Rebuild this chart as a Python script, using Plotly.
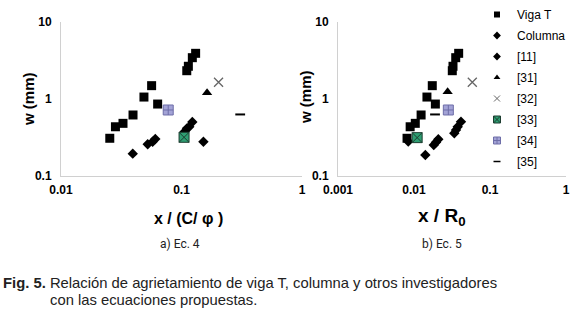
import plotly.graph_objects as go

W, H = 576, 314

# ---------------- data: a) Ec. 4  (x / (C/phi), w mm) ----------------
a_viga_x = [0.0254, 0.0283, 0.0327, 0.0396, 0.0488, 0.0565, 0.0634, 0.1106, 0.114, 0.123, 0.131]
a_viga_y = [0.309, 0.436, 0.483, 0.62, 1.06, 1.49, 0.86, 2.33, 2.66, 3.44, 3.92]
a_col_x = [0.0524, 0.0576, 0.0606, 0.106, 0.111, 0.116, 0.123]
a_col_y = [0.258, 0.279, 0.303, 0.376, 0.416, 0.436, 0.502]
a_11_x = [0.0394, 0.152]
a_11_y = [0.195, 0.279]
a_31_x = [0.163]; a_31_y = [1.21]
a_32_x = [0.203]; a_32_y = [1.65]
a_33_x = [0.105]; a_33_y = [0.318]
a_34_x = [0.0776]; a_34_y = [0.72]
a_35_x = [0.307]; a_35_y = [0.63]

# ---------------- data: b) Ec. 5  (x / R0, w mm) ----------------
b_viga_x = [0.0081, 0.0089, 0.0104, 0.0124, 0.0148, 0.0174, 0.0191, 0.0319, 0.0326, 0.0354, 0.0387]
b_viga_y = [0.309, 0.436, 0.483, 0.62, 1.06, 1.49, 0.86, 2.33, 2.66, 3.44, 3.92]
b_col_x = [0.0182, 0.0195, 0.0209, 0.0339, 0.0357, 0.0376, 0.0415]
b_col_y = [0.253, 0.274, 0.300, 0.359, 0.396, 0.436, 0.507]
b_11_x = [0.0141, 0.0084]
b_11_y = [0.187, 0.28]
b_31_x = [0.0277]; b_31_y = [1.24]
b_32_x = [0.0585]; b_32_y = [1.65]
b_33_x = [0.0110]; b_33_y = [0.315]
b_34_x = [0.0283]; b_34_y = [0.72]
b_35_x = [0.0189]; b_35_y = [0.63]

series_names = ["Viga T", "Columna", "[11]", "[31]", "[32]", "[33]", "[34]", "[35]"]
a_data = [(a_viga_x, a_viga_y), (a_col_x, a_col_y), (a_11_x, a_11_y), (a_31_x, a_31_y),
          (a_32_x, a_32_y), (a_33_x, a_33_y), (a_34_x, a_34_y), (a_35_x, a_35_y)]
b_data = [(b_viga_x, b_viga_y), (b_col_x, b_col_y), (b_11_x, b_11_y), (b_31_x, b_31_y),
          (b_32_x, b_32_y), (b_33_x, b_33_y), (b_34_x, b_34_y), (b_35_x, b_35_y)]

y_ticks = [0.1, 1, 10]
y_ticktext = ["0.1", "1", "10"]
a_xticks = [0.01, 0.1, 1]
a_xticktext = ["0.01", "0.1", "1"]
b_xticks = [0.001, 0.01, 0.1, 1]
b_xticktext = ["0.001", "0.01", "0.1", "1"]

styles = [
    dict(symbol="square", size=9, color="black", line=dict(width=0)),
    dict(symbol="diamond", size=8, color="black", line=dict(width=0)),
    dict(symbol="diamond", size=8, color="black", line=dict(width=0)),
    dict(symbol="triangle-up", size=9, color="black", line=dict(width=0)),
    dict(symbol="x-thin-open", size=9, color="#666666", line=dict(width=1.3, color="#666666")),
    dict(symbol="square-x", size=10, color="#2e9e72", line=dict(width=1, color="#1d3d30")),
    dict(symbol="square-cross", size=10, color="#a3a3d6", line=dict(width=1, color="#6e6ea8")),
    dict(symbol="line-ew-open", size=7, color="black", line=dict(width=2, color="black")),
]
legend_styles = [
    dict(symbol="square", size=6, color="black", line=dict(width=0)),
    dict(symbol="diamond", size=6, color="black", line=dict(width=0)),
    dict(symbol="diamond", size=6, color="black", line=dict(width=0)),
    dict(symbol="triangle-up", size=6, color="black", line=dict(width=0)),
    dict(symbol="x-thin-open", size=6, color="#666666", line=dict(width=1, color="#666666")),
    dict(symbol="square-x", size=7, color="#2e9e72", line=dict(width=1, color="#1d3d30")),
    dict(symbol="square-cross", size=7, color="#a3a3d6", line=dict(width=1, color="#6e6ea8")),
    dict(symbol="line-ew-open", size=5, color="black", line=dict(width=1.5, color="black")),
]

fig = go.Figure()
for i, name in enumerate(series_names):
    xs, ys = a_data[i]
    fig.add_trace(go.Scatter(x=xs, y=ys, mode="markers", name=name, legendgroup=name,
                             marker=styles[i], showlegend=False, xaxis="x", yaxis="y"))
for i, name in enumerate(series_names):
    xs, ys = b_data[i]
    fig.add_trace(go.Scatter(x=xs, y=ys, mode="markers", name=name, legendgroup=name,
                             marker=styles[i], showlegend=False, xaxis="x2", yaxis="y2"))
# legend-only entries (smaller symbols, as in the original legend)
for i, name in enumerate(series_names):
    fig.add_trace(go.Scatter(x=[None], y=[None], mode="markers", name=name, legendgroup=name,
                             marker=legend_styles[i], showlegend=True, xaxis="x", yaxis="y"))


def fx(p):
    return p / W


def fy(p):
    return 1 - p / H


tickfont = dict(family="Liberation Sans, Arial, sans-serif", size=12, color="black", weight="bold")
axcommon = dict(type="log", showgrid=False, zeroline=False, showline=True, linecolor="#d0d0d0",
                linewidth=1, ticks="", tickfont=tickfont)

ydom = [fy(176), fy(22)]
fig.update_layout(
    width=W, height=H, margin=dict(l=0, r=0, t=0, b=0, autoexpand=False),
    paper_bgcolor="white", plot_bgcolor="rgba(0,0,0,0)",
    xaxis=dict(axcommon, domain=[fx(61), fx(302)], range=[-2, 0], tickvals=a_xticks,
               ticktext=a_xticktext, anchor="y", ticklabelstandoff=3),
    yaxis=dict(axcommon, domain=ydom, range=[-1, 1], tickvals=y_ticks, ticktext=y_ticktext,
               anchor="x", ticklabelstandoff=6),
    xaxis2=dict(axcommon, domain=[fx(338), fx(566)], range=[-3, 0], tickvals=b_xticks,
                ticktext=b_xticktext, anchor="y2", ticklabelstandoff=3),
    yaxis2=dict(axcommon, domain=ydom, range=[-1, 1], tickvals=y_ticks, ticktext=y_ticktext,
                anchor="x2", ticklabelstandoff=6),
    legend=dict(x=fx(477), y=fy(0), xanchor="left", yanchor="top",
                bgcolor="rgba(0,0,0,0)", tracegroupgap=2, itemwidth=30,
                font=dict(family="Liberation Sans, Arial, sans-serif", size=12, color="black")),
    showlegend=True,
    hovermode=False,
)

bold15 = dict(family="Liberation Sans, Arial, sans-serif", size=15, color="black", weight="bold")
small = dict(family="Roboto, Liberation Sans, Arial, sans-serif", size=12, color="#222222")
capfont = dict(family="Liberation Sans, Arial, sans-serif", size=14.8, color="#222222")
ann = [
    dict(text="w (mm)", x=fx(28), y=fy(99), textangle=-90, font=bold15),
    dict(text="w (mm)", x=fx(305), y=fy(97), textangle=-90, font=bold15),
    dict(text="x / (C/ φ )", x=fx(188), y=fy(218), font=dict(bold15, size=16)),
    dict(text="x / R<sub>0</sub>", x=fx(442), y=fy(217), font=dict(bold15, size=19)),
    dict(text="a) Ec. 4", x=fx(180), y=fy(244), font=small),
    dict(text="b) Ec. 5", x=fx(442), y=fy(244), font=small),
    dict(text="<b>Fig. 5.</b> Relación de agrietamiento de viga T, columna y otros investigadores",
         x=fx(1), y=fy(283), xanchor="left", font=capfont),
    dict(text="con las ecuaciones propuestas.", x=fx(48), y=fy(300), xanchor="left",
         font=capfont),
]
for a in ann:
    a.setdefault("xanchor", "center")
    a.update(xref="paper", yref="paper", yanchor="middle", showarrow=False)
fig.update_layout(annotations=ann)

# remove the browser's default 8 px page margin so the figure sits at the window's corner
fig.write_html("out.html", config={"displayModeBar": False},
               post_script="document.body.style.margin='0';")
